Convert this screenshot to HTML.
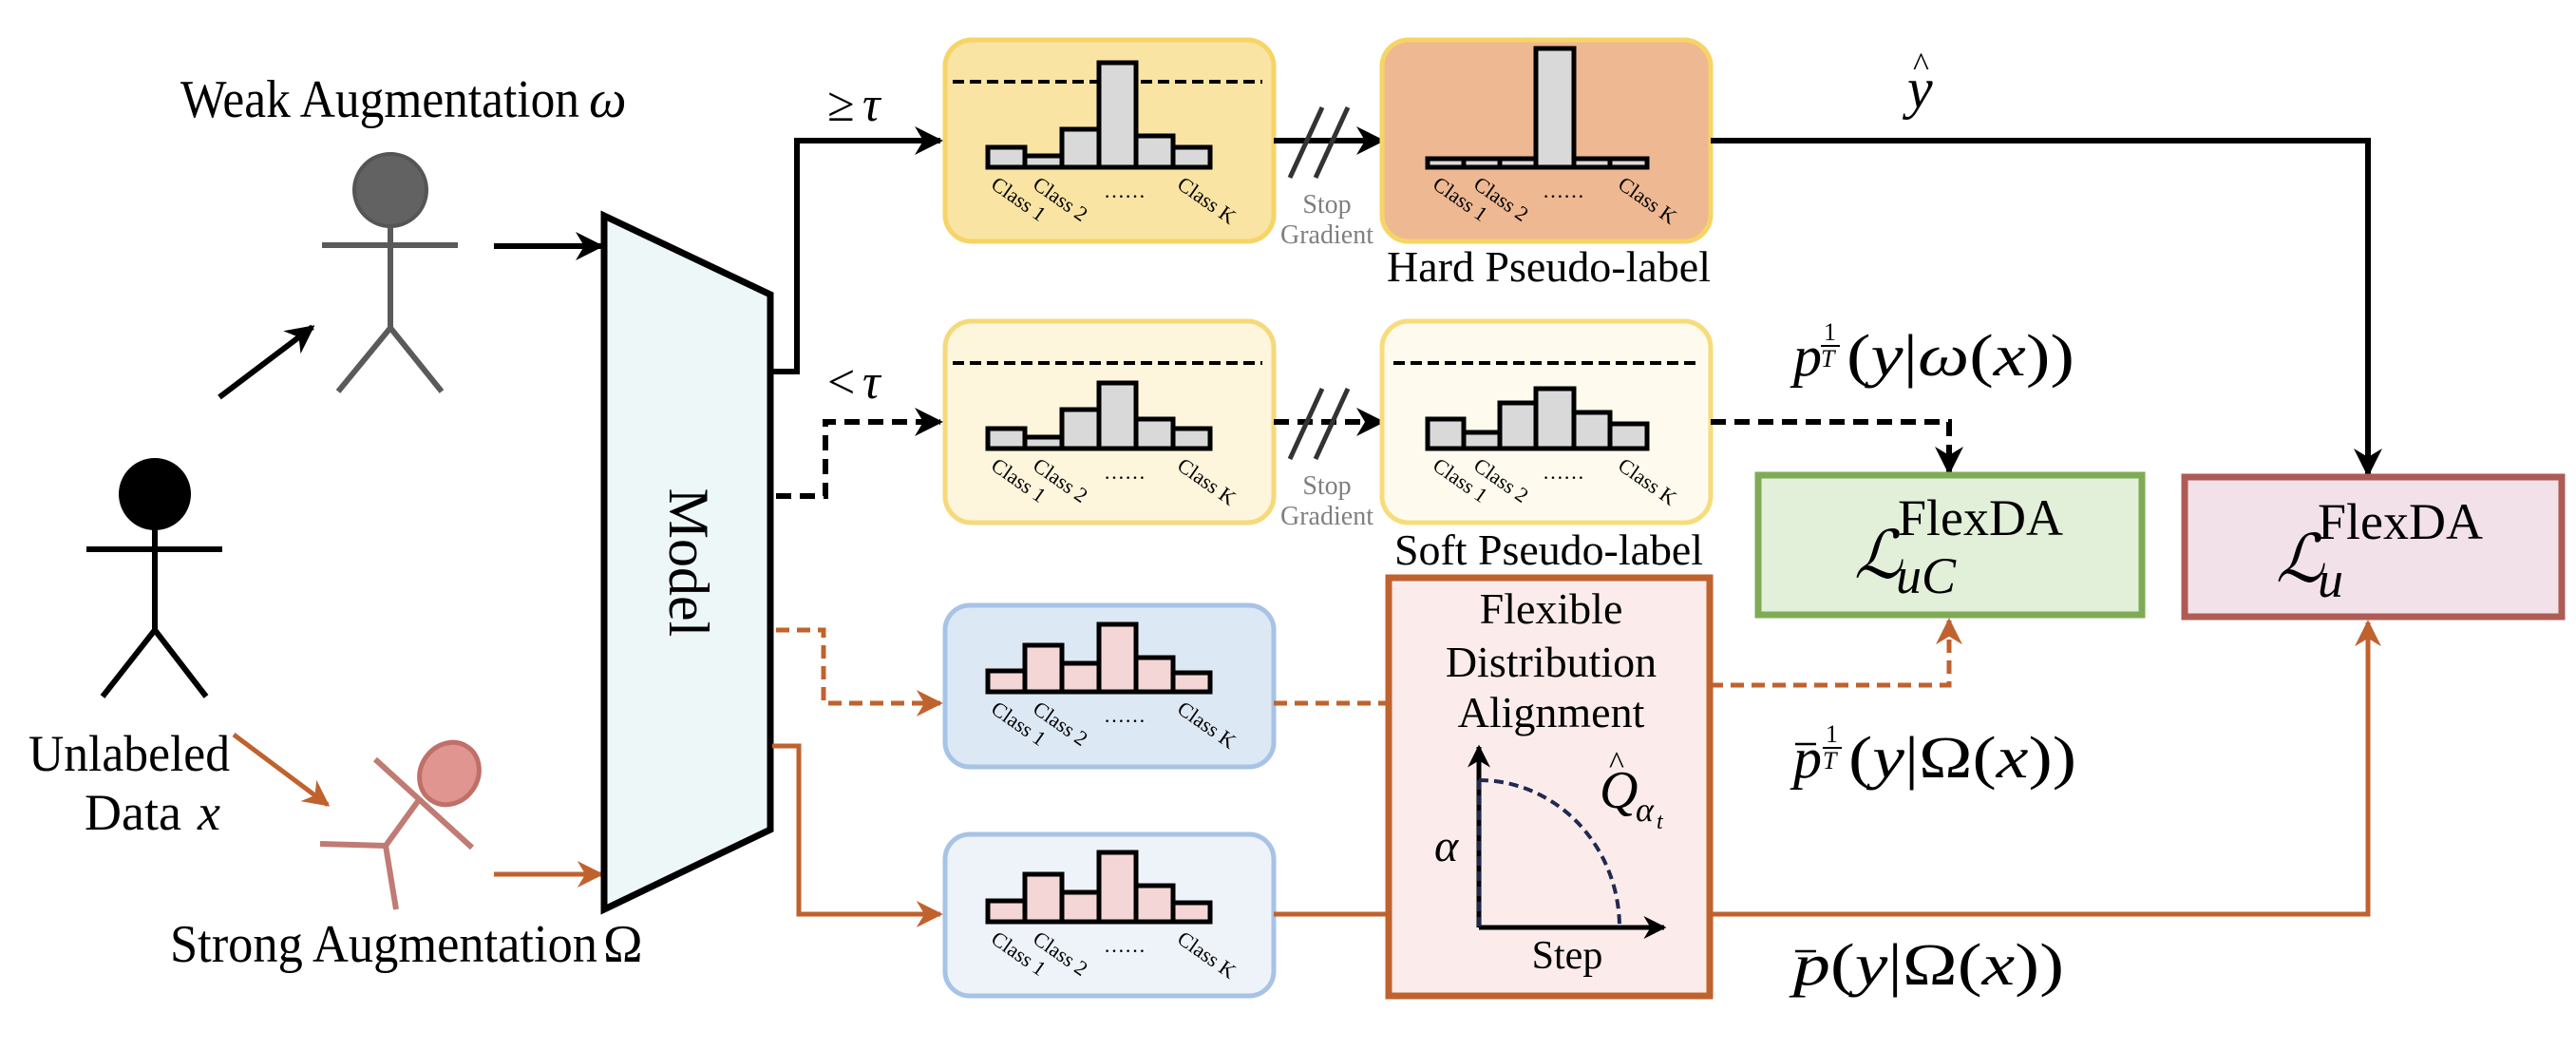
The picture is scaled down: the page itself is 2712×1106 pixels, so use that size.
<!DOCTYPE html>
<html><head><meta charset="utf-8"><style>
html,body{margin:0;padding:0;background:#fff;}
svg{display:block;}
.cl{font-size:22px;}
.m{font-style:italic;}
</style></head><body>
<svg width="2712" height="1106" viewBox="0 0 2712 1106" xmlns="http://www.w3.org/2000/svg" font-family="'Liberation Serif', 'DejaVu Serif', serif">
<defs>
<marker id="ab" viewBox="0 0 20 20" refX="18" refY="10" markerWidth="30" markerHeight="30" markerUnits="userSpaceOnUse" orient="auto"><path d="M0,0 L20,10 L0,20 L6,10 z" fill="#000"/></marker>
<marker id="ao" viewBox="0 0 20 20" refX="18" refY="10" markerWidth="28" markerHeight="28" markerUnits="userSpaceOnUse" orient="auto"><path d="M0,0 L20,10 L0,20 L6,10 z" fill="#c0622e"/></marker>
<marker id="an" viewBox="0 0 20 20" refX="18" refY="10" markerWidth="24" markerHeight="24" markerUnits="userSpaceOnUse" orient="auto"><path d="M0,0 L20,10 L0,20 L6,10 z" fill="#000"/></marker>
</defs>
<style>
.bk{stroke:#000;stroke-width:6;fill:none;}
.or{stroke:#c0622e;stroke-width:5;fill:none;}
.bar{stroke:#000;stroke-width:5;}
</style>

<!-- Weak augmentation -->
<text x="190" y="123" font-size="56" textLength="420" lengthAdjust="spacingAndGlyphs">Weak Augmentation</text>
<text x="620" y="123" font-size="56" class="m">ω</text>
<ellipse cx="411" cy="200" rx="38" ry="38" fill="#626262" stroke="#555" stroke-width="4"/>
<g stroke="#5a5a5a" stroke-width="6" fill="none">
<line x1="339" y1="258" x2="482" y2="258"/><line x1="411" y1="238" x2="411" y2="345"/>
<line x1="411" y1="345" x2="356" y2="412"/><line x1="411" y1="345" x2="465" y2="412"/>
</g>
<line x1="231" y1="418" x2="329" y2="344" class="bk" marker-end="url(#ab)"/>
<line x1="520" y1="259" x2="633" y2="259" class="bk" marker-end="url(#ab)"/>

<!-- Unlabeled person -->
<ellipse cx="163" cy="520" rx="38" ry="38" fill="#000"/>
<g stroke="#000" stroke-width="6" fill="none">
<line x1="91" y1="578" x2="234" y2="578"/><line x1="163" y1="550" x2="163" y2="663"/>
<line x1="163" y1="663" x2="108" y2="733"/><line x1="163" y1="663" x2="217" y2="733"/>
</g>
<text x="30" y="811" font-size="54" textLength="212" lengthAdjust="spacingAndGlyphs">Unlabeled</text>
<text x="89" y="873" font-size="54">Data</text><text x="208" y="873" font-size="54" class="m">x</text>
<line x1="246" y1="773" x2="345" y2="847" class="or" marker-end="url(#ao)"/>

<!-- strong person -->
<g stroke="#c07b74" stroke-width="6" fill="none">
<line x1="395" y1="799" x2="497" y2="892"/><line x1="443" y1="839" x2="406" y2="890"/>
<line x1="337" y1="888" x2="406" y2="890"/><line x1="406" y1="890" x2="417" y2="957"/>
</g>
<ellipse cx="473" cy="814" rx="30" ry="34" transform="rotate(35 473 814)" fill="#e09590" stroke="#c07068" stroke-width="5"/>
<line x1="520" y1="920" x2="633" y2="920" class="or" marker-end="url(#ao)"/>
<text x="179" y="1012" font-size="56" textLength="450" lengthAdjust="spacingAndGlyphs">Strong Augmentation</text>
<text x="635" y="1012" font-size="56">Ω</text>

<!-- Model -->
<polygon points="636,227 811,310 811,873 636,957" fill="#eef7f8" stroke="#000" stroke-width="7"/>
<text transform="translate(705,592) rotate(90)" text-anchor="middle" font-size="60">Model</text>

<!-- connectors from model -->
<polyline points="813,391 839,391 839,148 990,148" class="bk" marker-end="url(#ab)"/>
<text x="871" y="127" font-size="52">≥</text><text x="908" y="127" font-size="52" class="m">τ</text>
<polyline points="817,522 869,522 869,444 990,444" class="bk" stroke-dasharray="16,9" marker-end="url(#ab)"/>
<text x="871" y="419" font-size="52">&lt;</text><text x="908" y="419" font-size="52" class="m">τ</text>
<polyline points="817,663 867,663 867,740 990,740" class="or" stroke-dasharray="14,8" marker-end="url(#ao)"/>
<polyline points="813,785 841,785 841,962 990,962" class="or" marker-end="url(#ao)"/>

<!-- Box 1 -->
<rect x="995" y="42" width="346" height="212" rx="28" fill="#f9e4a4" stroke="#f6d466" stroke-width="5"/>
<line x1="1003" y1="86" x2="1329" y2="86" stroke="#000" stroke-width="4" stroke-dasharray="12,6"/>
<g fill="#d9d9d9" class="bar">
<rect x="1040" y="155" width="39" height="21"/><rect x="1079" y="164" width="39" height="12"/>
<rect x="1118" y="136" width="39" height="40"/><rect x="1157" y="66" width="39" height="110"/>
<rect x="1196" y="143" width="39" height="33"/><rect x="1235" y="155" width="39" height="21"/>
</g>
<!-- Box 2 -->
<rect x="995" y="338" width="346" height="212" rx="28" fill="#fdf5dc" stroke="#f6d97a" stroke-width="5"/>
<line x1="1003" y1="382" x2="1329" y2="382" stroke="#000" stroke-width="4" stroke-dasharray="12,6"/>
<g fill="#d9d9d9" class="bar">
<rect x="1040" y="451" width="39" height="21"/><rect x="1079" y="460" width="39" height="12"/>
<rect x="1118" y="431" width="39" height="41"/><rect x="1157" y="403" width="39" height="69"/>
<rect x="1196" y="441" width="39" height="31"/><rect x="1235" y="451" width="39" height="21"/>
</g>
<!-- Box 3 -->
<rect x="995" y="637" width="346" height="170" rx="26" fill="#dde8f5" stroke="#a7c3e6" stroke-width="5"/>
<g fill="#f4d6d6" class="bar">
<rect x="1040" y="706" width="39" height="22"/><rect x="1079" y="679" width="39" height="49"/>
<rect x="1118" y="698" width="39" height="30"/><rect x="1157" y="657" width="39" height="71"/>
<rect x="1196" y="692" width="39" height="36"/><rect x="1235" y="708" width="39" height="20"/>
</g>
<!-- Box 4 -->
<rect x="995" y="878" width="346" height="170" rx="26" fill="#eef3fa" stroke="#a7c3e6" stroke-width="5"/>
<g fill="#f4d6d6" class="bar">
<rect x="1040" y="948" width="39" height="22"/><rect x="1079" y="920" width="39" height="50"/>
<rect x="1118" y="939" width="39" height="31"/><rect x="1157" y="897" width="39" height="73"/>
<rect x="1196" y="932" width="39" height="38"/><rect x="1235" y="950" width="39" height="20"/>
</g>
<!-- class labels for left boxes -->
<g class="cl">
<text transform="translate(1042,197) rotate(35)">Class 1</text>
<text transform="translate(1086,197) rotate(35)">Class 2</text>
<text x="1162" y="208">……</text>
<text transform="translate(1238,197) rotate(35)">Class K</text>
<text transform="translate(1042,493) rotate(35)">Class 1</text>
<text transform="translate(1086,493) rotate(35)">Class 2</text>
<text x="1162" y="504">……</text>
<text transform="translate(1238,493) rotate(35)">Class K</text>
<text transform="translate(1042,749) rotate(35)">Class 1</text>
<text transform="translate(1086,749) rotate(35)">Class 2</text>
<text x="1162" y="760">……</text>
<text transform="translate(1238,749) rotate(35)">Class K</text>
<text transform="translate(1042,991) rotate(35)">Class 1</text>
<text transform="translate(1086,991) rotate(35)">Class 2</text>
<text x="1162" y="1002">……</text>
<text transform="translate(1238,991) rotate(35)">Class K</text>
</g>

<!-- stop gradients -->
<line x1="1341" y1="148" x2="1455" y2="148" class="bk" marker-end="url(#ab)"/>
<line x1="1341" y1="444" x2="1455" y2="444" class="bk" stroke-dasharray="16,9" marker-end="url(#ab)"/>
<g stroke="#333" stroke-width="5">
<line x1="1358" y1="187" x2="1392" y2="113"/><line x1="1385" y1="187" x2="1419" y2="113"/>
<line x1="1358" y1="483" x2="1392" y2="409"/><line x1="1385" y1="483" x2="1419" y2="409"/>
</g>
<g fill="#7f7f7f" font-size="28" text-anchor="middle">
<text x="1397" y="224">Stop</text><text x="1397" y="256">Gradient</text>
<text x="1397" y="520">Stop</text><text x="1397" y="552">Gradient</text>
</g>

<!-- Hard box -->
<rect x="1455" y="42" width="346" height="212" rx="28" fill="#eeb892" stroke="#f6d466" stroke-width="5"/>
<g fill="#d9d9d9" class="bar">
<rect x="1503" y="167" width="38" height="9"/><rect x="1541" y="167" width="38" height="9"/>
<rect x="1579" y="167" width="38" height="9"/><rect x="1617" y="51" width="40" height="125"/>
<rect x="1657" y="167" width="38" height="9"/><rect x="1695" y="167" width="39" height="9"/>
</g>
<text x="1460" y="296" font-size="46" textLength="341" lengthAdjust="spacingAndGlyphs">Hard Pseudo-label</text>
<!-- Soft box -->
<rect x="1455" y="338" width="346" height="212" rx="28" fill="#fefbee" stroke="#f8dc7b" stroke-width="5"/>
<line x1="1467" y1="382" x2="1789" y2="382" stroke="#000" stroke-width="4" stroke-dasharray="12,6"/>
<g fill="#d9d9d9" class="bar">
<rect x="1503" y="441" width="38" height="31"/><rect x="1541" y="455" width="38" height="17"/>
<rect x="1579" y="424" width="38" height="48"/><rect x="1617" y="409" width="40" height="63"/>
<rect x="1657" y="434" width="38" height="38"/><rect x="1695" y="446" width="39" height="26"/>
</g>
<text x="1468" y="594" font-size="46" textLength="325" lengthAdjust="spacingAndGlyphs">Soft Pseudo-label</text>
<g class="cl">
<text transform="translate(1507,197) rotate(35)">Class 1</text>
<text transform="translate(1550,197) rotate(35)">Class 2</text>
<text x="1624" y="208">……</text>
<text transform="translate(1702,197) rotate(35)">Class K</text>
<text transform="translate(1507,493) rotate(35)">Class 1</text>
<text transform="translate(1550,493) rotate(35)">Class 2</text>
<text x="1624" y="504">……</text>
<text transform="translate(1702,493) rotate(35)">Class K</text>
</g>

<!-- right connectors -->
<polyline points="1801,148 2493,148 2493,499" class="bk" marker-end="url(#ab)"/>
<text x="2008" y="113" font-size="60" class="m">y</text><text x="2014" y="80" font-size="36">^</text>
<polyline points="1801,444 2052,444 2052,497" class="bk" stroke-dasharray="16,9" marker-end="url(#ab)"/>
<text x="1888" y="395" font-size="60" class="m">p</text>
<text x="1920" y="358" font-size="26">1</text><line x1="1917" y1="364" x2="1937" y2="364" stroke="#000" stroke-width="2"/><text x="1917" y="386" font-size="26" class="m">T</text>
<text x="1944" y="395" font-size="62" textLength="240" lengthAdjust="spacingAndGlyphs"><tspan>(</tspan><tspan class="m">y</tspan><tspan>|</tspan><tspan class="m">ω</tspan><tspan>(</tspan><tspan class="m">x</tspan><tspan>))</tspan></text>

<!-- green loss -->
<rect x="1851" y="500" width="404" height="147" fill="#e2efd9" stroke="#7fab56" stroke-width="7"/>
<text x="1952" y="608" font-size="70" class="m">ℒ</text>
<text x="1998" y="563" font-size="54">FlexDA</text>
<text x="1996" y="624" font-size="54" class="m">uC</text>
<!-- pink loss -->
<rect x="2300" y="502" width="397" height="147" fill="#f2e1e9" stroke="#ae5b55" stroke-width="7"/>
<text x="2396" y="612" font-size="70" class="m">ℒ</text>
<text x="2440" y="567" font-size="54">FlexDA</text>
<text x="2440" y="628" font-size="54" class="m">u</text>

<!-- FDA box -->
<rect x="1462" y="608" width="338" height="440" fill="#fbeceb" stroke="#c0622e" stroke-width="7"/>
<g font-size="46" text-anchor="middle">
<text x="1633" y="656">Flexible</text><text x="1633" y="712">Distribution</text><text x="1633" y="765">Alignment</text>
<text x="1650" y="1019" font-size="42">Step</text>
</g>
<line x1="1557" y1="976" x2="1557" y2="786" stroke="#000" stroke-width="5" marker-end="url(#an)"/>
<line x1="1557" y1="976" x2="1752" y2="976" stroke="#000" stroke-width="5" marker-end="url(#an)"/>
<path d="M1557,821 A148,155 0 0 1 1705,976" fill="none" stroke="#1f2a4e" stroke-width="4" stroke-dasharray="10,6"/>
<line x1="1557" y1="821" x2="1557" y2="976" stroke="#1f2a4e" stroke-width="4" stroke-dasharray="10,6"/>
<text x="1510" y="906" font-size="48" class="m">α</text>
<text x="1684" y="850" font-size="56" class="m">Q</text><text x="1694" y="814" font-size="34">^</text>
<text x="1722" y="864" font-size="36" class="m">α</text><text x="1744" y="872" font-size="24" class="m">t</text>

<!-- orange connectors right -->
<line x1="1341" y1="740" x2="1462" y2="740" class="or" stroke-dasharray="14,8"/>
<polyline points="1800,721 2052,721 2052,653" class="or" stroke-dasharray="14,8" marker-end="url(#ao)"/>
<line x1="1341" y1="962" x2="1462" y2="962" class="or"/>
<polyline points="1800,962 2493,962 2493,655" class="or" marker-end="url(#ao)"/>

<text x="1888" y="818" font-size="60" class="m">p</text><line x1="1890" y1="783" x2="1912" y2="783" stroke="#000" stroke-width="2.5"/>
<text x="1922" y="781" font-size="26">1</text><line x1="1919" y1="787" x2="1939" y2="787" stroke="#000" stroke-width="2"/><text x="1919" y="809" font-size="26" class="m">T</text>
<text x="1946" y="818" font-size="62" textLength="240" lengthAdjust="spacingAndGlyphs"><tspan>(</tspan><tspan class="m">y</tspan><tspan>|Ω(</tspan><tspan class="m">x</tspan><tspan>))</tspan></text>

<text x="1888" y="1036" font-size="62" textLength="285" lengthAdjust="spacingAndGlyphs"><tspan class="m">p</tspan><tspan>(</tspan><tspan class="m">y</tspan><tspan>|Ω(</tspan><tspan class="m">x</tspan><tspan>))</tspan></text>
<line x1="1890" y1="1001" x2="1912" y2="1001" stroke="#000" stroke-width="2.5"/>
</svg>
</body></html>
